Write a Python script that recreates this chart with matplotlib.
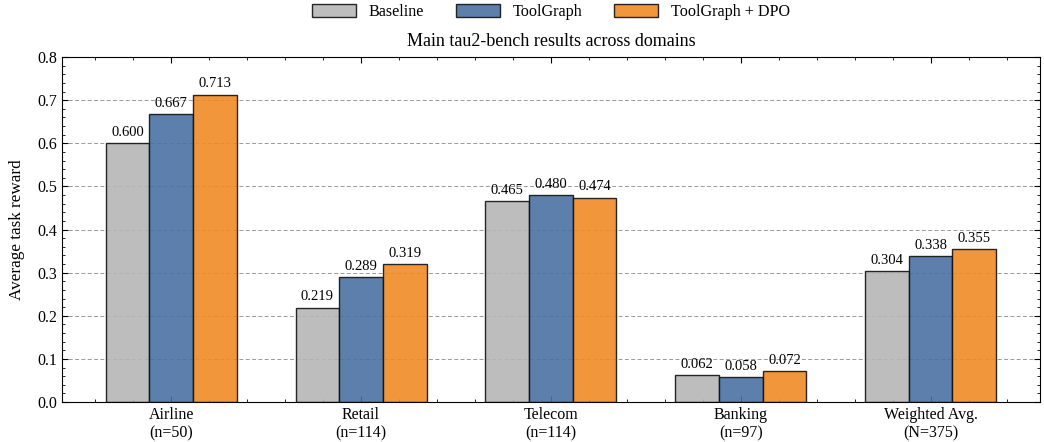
import numpy as np
import matplotlib
matplotlib.use("Agg")
import matplotlib.pyplot as plt
from matplotlib.ticker import MultipleLocator

# results per domain
domains = ["Airline\n(n=50)", "Retail\n(n=114)", "Telecom\n(n=114)",
           "Banking\n(n=97)", "Weighted Avg.\n(N=375)"]
baseline = [0.600, 0.219, 0.465, 0.062, 0.304]
toolgraph = [0.667, 0.289, 0.480, 0.058, 0.338]
toolgraph_dpo = [0.713, 0.319, 0.474, 0.072, 0.355]
methods = ["Baseline", "ToolGraph", "ToolGraph + DPO"]

plt.rcParams["font.family"] = ["Liberation Serif", "DejaVu Serif"]
plt.rcParams["xtick.direction"] = "in"
plt.rcParams["ytick.direction"] = "in"
plt.rcParams["xtick.top"] = True
plt.rcParams["ytick.right"] = True

fig = plt.figure(figsize=(10.44, 4.42), dpi=100)
ax = fig.add_axes([0.0594, 0.0905, 0.9366, 0.7805])

colors = ["#b6b6b6", "#4a72a2", "#f08b26"]
w = 0.23
x = np.arange(len(domains))
for i, (vals, c, name) in enumerate(zip([baseline, toolgraph, toolgraph_dpo], colors, methods)):
    bars = ax.bar(x + (i - 1) * w, vals, w, color=c, edgecolor="#111111",
                  linewidth=1.0, label=name, zorder=2, alpha=0.9)
    for b, v in zip(bars, vals):
        ax.text(b.get_x() + b.get_width() / 2, v + 0.01, f"{v:.3f}",
                ha="center", va="bottom", fontsize=10.5, zorder=3)

ax.set_xlim(-0.575, 4.575)
ax.set_ylim(0, 0.8)
ax.set_xticks(x)
ax.set_xticklabels(domains, fontsize=11.5)
ax.xaxis.set_minor_locator(MultipleLocator(0.2))
ax.yaxis.set_major_locator(MultipleLocator(0.1))
ax.yaxis.set_minor_locator(MultipleLocator(0.02))
ax.tick_params(which="major", length=4, width=0.8, labelsize=11.5)
ax.tick_params(which="minor", length=2, width=0.6)
ax.set_ylabel("Average task reward", fontsize=12.3, labelpad=9)
ax.set_title("Main tau2-bench results across domains", fontsize=13, pad=8)
ax.yaxis.grid(True, linestyle=(0, (4, 2.5)), color="#999999", linewidth=0.7, zorder=0)
ax.set_axisbelow(True)

ax.legend(loc="upper center", bbox_to_anchor=(0.5, 1.197), ncol=3, frameon=False,
          fontsize=11.6, handlelength=2.7, handleheight=0.9, columnspacing=2.0)

fig.savefig("out.png", dpi=100)
